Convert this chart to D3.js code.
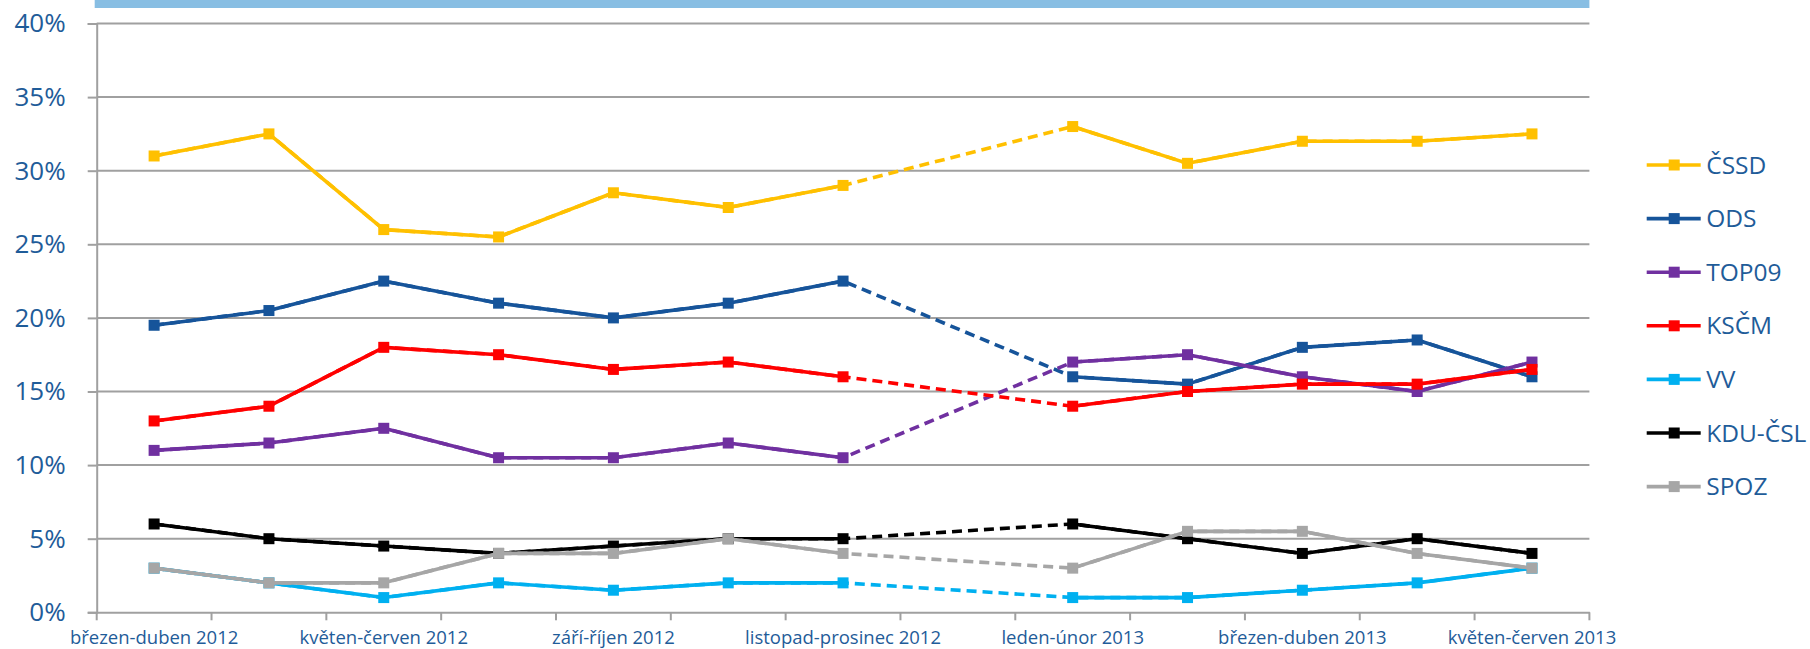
<!DOCTYPE html>
<html lang="cs">
<head>
<meta charset="UTF-8">
<title>Volební preference 2012-2013</title>
<script src="https://cdn.jsdelivr.net/npm/d3@7"></script>
<style>
  body { margin: 0; background: #fff; }
  svg { display: block; font-family: "Open Sans", sans-serif; }
</style>
</head>
<body>
<div id="chart"></div>
<script>
// categories (only every second one is labelled on the axis)
const periods = [
  'březen-duben 2012', 'duben-květen 2012', 'květen-červen 2012', 'červen-září 2012',
  'září-říjen 2012', 'říjen-listopad 2012', 'listopad-prosinec 2012', 'prosinec-leden 2013',
  'leden-únor 2013', 'únor-březen 2013', 'březen-duben 2013', 'duben-květen 2013',
  'květen-červen 2013'
]
const parties = ['ČSSD', 'ODS', 'TOP09', 'KSČM', 'VV', 'KDU-ČSL', 'SPOZ']
const colors = ['#FFC000', '#16549A', '#7030A0', '#FF0000', '#00B0F0', '#000000', '#A6A6A6']

// values in %, null = no survey (bridged with a dashed line)
const cssd  = [31, 32.5, 26, 25.5, 28.5, 27.5, 29, null, 33, 30.5, 32, 32, 32.5]
const ods   = [19.5, 20.5, 22.5, 21, 20, 21, 22.5, null, 16, 15.5, 18, 18.5, 16]
const top09 = [11, 11.5, 12.5, 10.5, 10.5, 11.5, 10.5, null, 17, 17.5, 16, 15, 17]
const kscm  = [13, 14, 18, 17.5, 16.5, 17, 16, null, 14, 15, 15.5, 15.5, 16.5]
const vv    = [3, 2, 1, 2, 1.5, 2, 2, null, 1, 1, 1.5, 2, 3]
const kdu   = [6, 5, 4.5, 4, 4.5, 5, 5, null, 6, 5, 4, 5, 4]
const spoz  = [3, 2, 2, 4, 4, 5, 4, null, 3, 5.5, 5.5, 4, 3]

const yTicks = [0, 5, 10, 15, 20, 25, 30, 35, 40]

const series = [cssd, ods, top09, kscm, vv, kdu, spoz].map((values, i) => ({
  name: parties[i],
  color: colors[i],
  values: values.map((v, j) => ({period: periods[j], value: v}))
}))

const width = 1810
const height = 649
const plotLeft = 96.7
const plotRight = 1589.4
const plotTop = 23.5
const plotBottom = 612.3
const textColor = '#1F5C99'
const gridColor = '#A0A0A0'
const lineWidth = 3.6
const markerSize = 11

const svg = d3.select('#chart').append('svg')
  .attr('width', width)
  .attr('height', height)

const x = d3.scaleBand().domain(periods).range([plotLeft, plotRight]).padding(0)
const y = d3.scaleLinear().domain([0, 40]).range([plotBottom, plotTop])
const cx = p => x(p) + x.bandwidth() / 2

// title bar remnant at the top
svg.append('rect')
  .attr('x', plotLeft - 2)
  .attr('y', 0)
  .attr('width', plotRight - plotLeft + 2)
  .attr('height', 8)
  .attr('fill', '#88BEE3')

// gridlines
svg.append('g')
  .selectAll('line')
  .data(yTicks.slice(1))
  .join('line')
  .attr('x1', plotLeft)
  .attr('x2', plotRight)
  .attr('y1', d => y(d))
  .attr('y2', d => y(d))
  .attr('stroke', gridColor)
  .attr('stroke-width', 2)

// y axis
const yAxis = svg.append('g')
  .attr('transform', `translate(${plotLeft},0)`)
  .call(d3.axisLeft(y).tickValues(yTicks).tickFormat(d => d + '%').tickSize(9).tickPadding(22))
yAxis.select('.domain').attr('stroke', gridColor).attr('stroke-width', 2)
yAxis.selectAll('.tick line').attr('stroke', gridColor).attr('stroke-width', 2)
yAxis.selectAll('.tick text')
  .attr('fill', textColor)
  .attr('font-size', '26px')
  .attr('font-family', '"Open Sans", sans-serif')

// x axis: labels at band centres, ticks at band boundaries
const xAxis = svg.append('g')
  .attr('transform', `translate(0,${plotBottom})`)
  .call(d3.axisBottom(x).tickSize(0).tickPadding(0).tickFormat((d, i) => i % 2 === 0 ? d : ''))
xAxis.select('.domain').attr('stroke', gridColor).attr('stroke-width', 2)
xAxis.selectAll('.tick text')
  .attr('fill', textColor)
  .attr('font-size', '18.5px')
  .attr('font-family', '"Open Sans", sans-serif')
  .attr('dy', null)
  .attr('y', 31.5)

svg.append('g')
  .selectAll('line')
  .data(periods.concat(['end']))
  .join('line')
  .attr('x1', (d, i) => plotLeft + i * x.step())
  .attr('x2', (d, i) => plotLeft + i * x.step())
  .attr('y1', plotBottom)
  .attr('y2', plotBottom + 8)
  .attr('stroke', gridColor)
  .attr('stroke-width', 2)

// lines
const solid = d3.line()
  .defined(d => d.value != null)
  .x(d => cx(d.period))
  .y(d => y(d.value))

const plot = svg.append('g')

series.forEach(s => {
  const g = plot.append('g')
  // dashed bridge across missing periods, covered by the solid line elsewhere
  g.append('path')
    .attr('d', solid(s.values.filter(d => d.value != null)))
    .attr('fill', 'none')
    .attr('stroke', s.color)
    .attr('stroke-width', lineWidth)
    .attr('stroke-dasharray', '10,6')
  g.append('path')
    .attr('d', solid(s.values))
    .attr('fill', 'none')
    .attr('stroke', s.color)
    .attr('stroke-width', lineWidth)
    .attr('stroke-linejoin', 'round')
  g.selectAll('rect')
    .data(s.values.filter(d => d.value != null))
    .join('rect')
    .attr('x', d => cx(d.period) - markerSize / 2)
    .attr('y', d => y(d.value) - markerSize / 2)
    .attr('width', markerSize)
    .attr('height', markerSize)
    .attr('fill', s.color)
})

// legend
const legend = svg.append('g')
  .selectAll('g')
  .data(series)
  .join('g')
  .attr('transform', (d, i) => `translate(1646.7,${165 + i * 53.6})`)

legend.append('line')
  .attr('x1', 0)
  .attr('x2', 54)
  .attr('stroke', d => d.color)
  .attr('stroke-width', lineWidth)
legend.append('rect')
  .attr('x', 27.5 - markerSize / 2)
  .attr('y', -markerSize / 2)
  .attr('width', markerSize)
  .attr('height', markerSize)
  .attr('fill', d => d.color)
legend.append('text')
  .attr('x', 59.5)
  .attr('dy', '0.35em')
  .attr('fill', textColor)
  .attr('font-size', '24.5px')
  .text(d => d.name)
</script>
</body>
</html>
